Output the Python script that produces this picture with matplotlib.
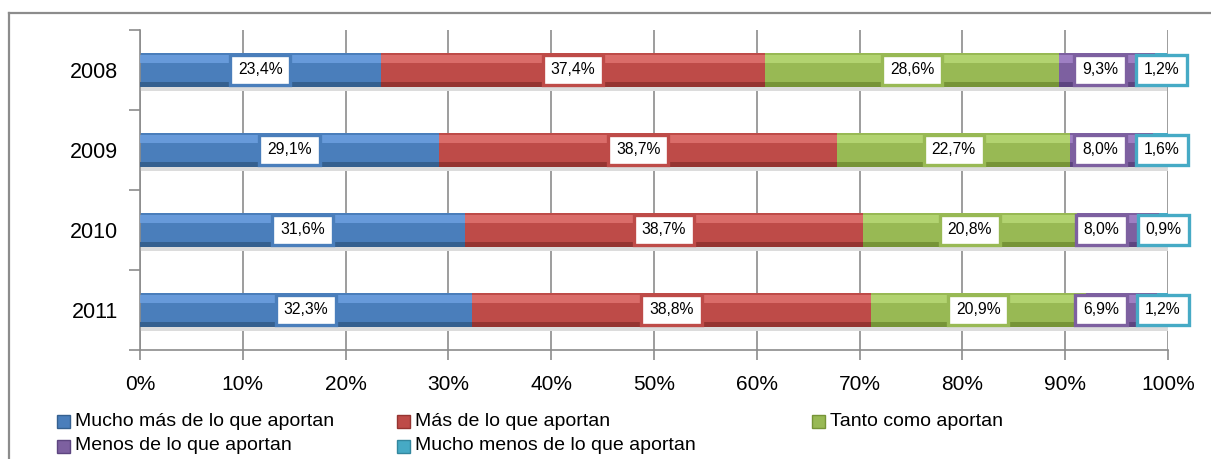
import numpy as np
import matplotlib.pyplot as plt
from matplotlib.patches import Rectangle

years = ["2008", "2009", "2010", "2011"]
series = ["Mucho más de lo que aportan", "Más de lo que aportan", "Tanto como aportan",
          "Menos de lo que aportan", "Mucho menos de lo que aportan"]
values = np.array([
    [23.4, 37.4, 28.6, 9.3, 1.2],
    [29.1, 38.7, 22.7, 8.0, 1.6],
    [31.6, 38.7, 20.8, 8.0, 0.9],
    [32.3, 38.8, 20.9, 6.9, 1.2],
])

base = ["#4a7ebb", "#be4b48", "#98b954", "#7d60a0", "#46aac5"]
light = ["#6fa2e2", "#e27572", "#b9da78", "#a788cc", "#6dcbe4"]
dark = ["#35608f", "#953431", "#769437", "#5d4580", "#33879e"]

plt.rcParams['font.family'] = ['Liberation Sans', 'DejaVu Sans']

fig = plt.figure(figsize=(12.11, 4.59), dpi=100)
W, H = 1211, 459
ax = fig.add_axes([140 / W, 1 - 350 / H, 1028 / W, 320 / H])

# outer frame
fig.add_artist(plt.Line2D([9 / W, 9 / W], [0, 1 - 13 / H], color="#8c8c8c", lw=1.6))
fig.add_artist(plt.Line2D([9 / W, 1.0], [1 - 13 / H, 1 - 13 / H], color="#8c8c8c", lw=1.6))

y = np.arange(len(years))
h = 0.43
left = np.zeros(len(years))

# shadow
ax.barh(y + 0.05, values.sum(axis=1), height=h, left=0, color="#dcdcdc", zorder=1)

for j in range(len(series)):
    v = values[:, j]
    ax.barh(y, v, height=h, left=left, color=base[j], zorder=2, lw=0)
    ax.barh(y - h / 2 + h * 0.18, v, height=h * 0.22, left=left, color=light[j], zorder=3, lw=0, alpha=0.8)
    ax.barh(y + h / 2 - h * 0.07, v, height=h * 0.14, left=left, color=dark[j], zorder=3, lw=0)
    left = left + v

# labels
starts = np.cumsum(values, axis=1) - values
centers = starts + values / 2
for i in range(len(years)):
    xs = centers[i].copy()
    xs[4] = max(xs[4], 99.4)
    xs[3] = min(xs[3], xs[4] - 6.0)
    for j in range(len(series)):
        txt = f"{values[i, j]:.1f}".replace(".", ",") + "%"
        ax.text(xs[j], y[i], txt, ha="center", va="center", fontsize=11.3, zorder=5,
                bbox=dict(boxstyle="square,pad=0.5", fc="white", ec=base[j], lw=2.4))

ax.set_xlim(0, 100)
ax.set_ylim(3.5, -0.5)
ax.set_xticks(np.arange(0, 101, 10))
ax.set_xticklabels([f"{t}%" for t in range(0, 101, 10)], fontsize=15)
ax.set_yticks(y)
ax.set_yticklabels(years, fontsize=15.5)
ax.set_yticks(np.arange(-0.5, 4, 1), minor=True)
ax.tick_params(axis="y", which="major", length=0, pad=16)
ax.tick_params(axis="y", which="minor", length=8, color="#8c8c8c", width=1.2)
ax.tick_params(axis="x", length=7, color="#8c8c8c", width=1.2, pad=11)
ax.grid(axis="x", color="#8c8c8c", lw=1.2, zorder=0)
ax.set_axisbelow(True)
for s in ["top", "right"]:
    ax.spines[s].set_visible(False)
for s in ["left", "bottom"]:
    ax.spines[s].set_color("#8c8c8c")
    ax.spines[s].set_linewidth(1.2)

# legend
pos = [(57, 421), (397, 421), (812, 421), (57, 446), (397, 446)]
for j, name in enumerate(series):
    px, py = pos[j]
    fig.add_artist(Rectangle((px / W, 1 - (py + 7) / H), 13 / W, 13 / H,
                             transform=fig.transFigure, fc=base[j], ec=dark[j], lw=1))
    fig.text((px + 18) / W, 1 - py / H, name, ha="left", va="center", fontsize=14)

fig.savefig("out.png", dpi=100)
